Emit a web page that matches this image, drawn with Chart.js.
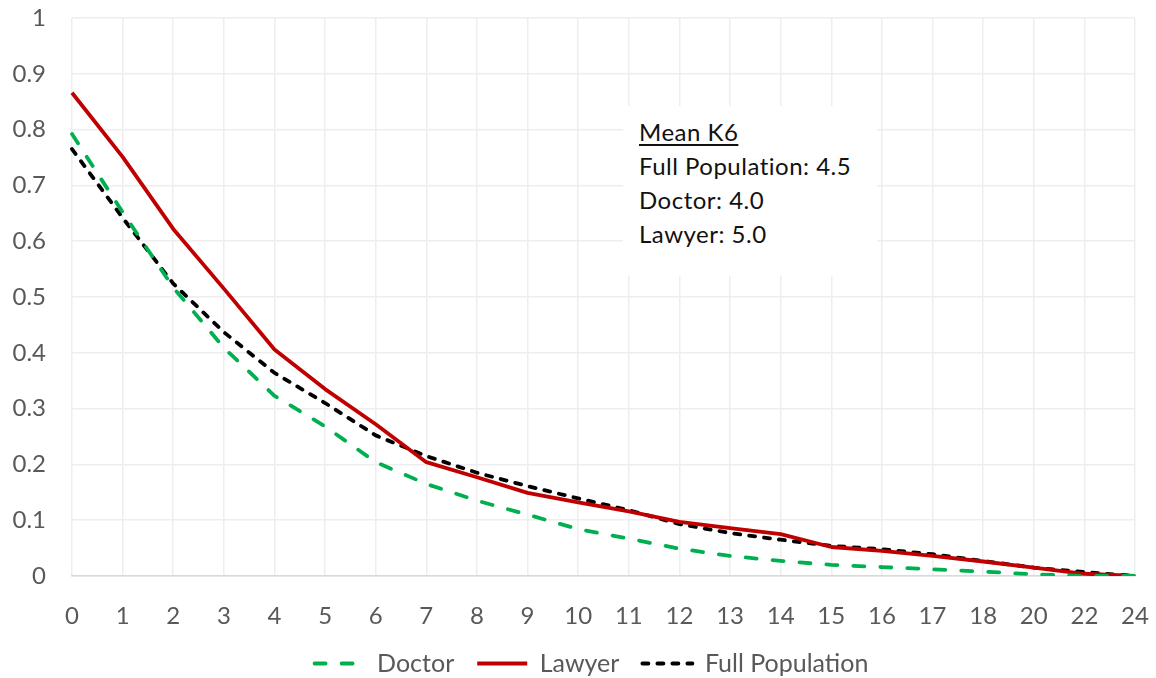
<!DOCTYPE html>
<html>
<head>
<meta charset="utf-8">
<script src="https://cdn.jsdelivr.net/npm/chart.js@4"></script>
<style>
    body { margin: 0; background: #fff; }
    .chart-container { position: relative; width: 1156px; height: 678px; }
    .mean-box {
        position: absolute;
        left: 623px;
        top: 106px;
        width: 238px;
        height: 161px;
        padding: 9px 0 0 16px;
        background: #fff;
        font-family: Lato, sans-serif;
        font-size: 24px;
        letter-spacing: 0.5px;
        line-height: 34px;
        color: #111;
    }
    .mean-box u { text-underline-offset: 3px; }
</style>
</head>
<body>
<div class="chart-container">
    <canvas id="chart"></canvas>
    <div class="mean-box">
        <u>Mean K6</u><br>
        Full Population: 4.5<br>
        Doctor: 4.0<br>
        Lawyer: 5.0
    </div>
</div>
<script>
// K6 score (x) against share of each group scoring at or above it
const scores = ['0','1','2','3','4','5','6','7','8','9','10','11','12','13','14','15','16','17','18','20','22','24'];
const doctor = [0.792, 0.652, 0.517, 0.409, 0.323, 0.268, 0.204, 0.165, 0.135, 0.110, 0.084, 0.067, 0.049, 0.036, 0.027, 0.020, 0.016, 0.012, 0.008, 0.003, 0.0, 0.0];
const lawyer = [0.866, 0.751, 0.622, 0.515, 0.406, 0.335, 0.272, 0.204, 0.177, 0.149, 0.132, 0.116, 0.097, 0.086, 0.075, 0.052, 0.045, 0.036, 0.026, 0.015, 0.004, 0.0];
const fullPopulation = [0.765, 0.642, 0.524, 0.437, 0.364, 0.310, 0.252, 0.215, 0.185, 0.161, 0.139, 0.118, 0.093, 0.077, 0.065, 0.054, 0.048, 0.039, 0.027, 0.015, 0.007, 0.0];

const tickFont = { family: 'Lato', size: 24 };
const tickColor = '#595959';
const gridColor = '#eeeeee';

function lineSet(label, data, color, dash) {
    return {
        label: label,
        data: data,
        borderColor: color,
        backgroundColor: color,
        borderWidth: 3.8,
        borderDash: dash,
        borderCapStyle: dash.length ? 'round' : 'butt',
        borderJoinStyle: 'round',
        pointRadius: 0,
        tension: 0,
        fill: false
    };
}

// the legend sits a little right of the canvas centre
const legendShift = {
    id: 'legendShift',
    afterUpdate: function(chart) {
        chart.legend.left += 24;
        chart.legend.right += 24;
    }
};

const ctx = document.getElementById('chart').getContext('2d');
const chart = new Chart(ctx, {
    type: 'line',
    data: {
        labels: scores,
        datasets: [
            lineSet('Doctor', doctor, '#00B050', [11, 16]),
            lineSet('Lawyer', lawyer, '#C00000', []),
            lineSet('Full Population', fullPopulation, '#000000', [6, 9])
        ]
    },
    plugins: [legendShift],
    options: {
        responsive: true,
        maintainAspectRatio: false,
        animation: false,
        layout: {
            padding: { top: 18, right: 21, bottom: -8, left: 0 }
        },
        scales: {
            x: {
                offset: false,
                grid: { color: gridColor, lineWidth: 1.5, drawTicks: false, offset: false },
                border: { display: true, color: '#d9d9d9', width: 1.5 },
                ticks: {
                    font: tickFont,
                    color: tickColor,
                    padding: 26,
                    autoSkip: false,
                    maxRotation: 0
                },
                afterFit: function(scale) {
                    scale.height = 52;
                    scale.paddingLeft = 0;
                    scale.paddingRight = 0;
                }
            },
            y: {
                min: 0,
                max: 1,
                grid: { color: gridColor, lineWidth: 1.5, drawTicks: false },
                border: { display: false },
                ticks: {
                    stepSize: 0.1,
                    font: tickFont,
                    color: tickColor,
                    padding: 26,
                    callback: function(v) { return Math.round(v * 10) / 10; }
                },
                afterFit: function(scale) {
                    scale.width = 72;
                    scale.paddingTop = 0;
                    scale.paddingBottom = 0;
                }
            }
        },
        plugins: {
            legend: {
                position: 'bottom',
                labels: {
                    font: { family: 'Lato', size: 25 },
                    color: tickColor,
                    usePointStyle: true,
                    pointStyle: 'line',
                    pointStyleWidth: 50,
                    boxHeight: 25,
                    padding: 23,
                    // keep each series' dash pattern in its legend sample
                    generateLabels: function(chart) {
                        const items = Chart.defaults.plugins.legend.labels.generateLabels(chart);
                        items.forEach(function(item) {
                            const ds = chart.data.datasets[item.datasetIndex];
                            item.lineDash = ds.borderDash;
                            item.lineCap = ds.borderCapStyle;
                            item.lineWidth = ds.borderWidth;
                        });
                        return items;
                    }
                }
            },
            tooltip: { enabled: false }
        }
    }
});
</script>
</body>
</html>
